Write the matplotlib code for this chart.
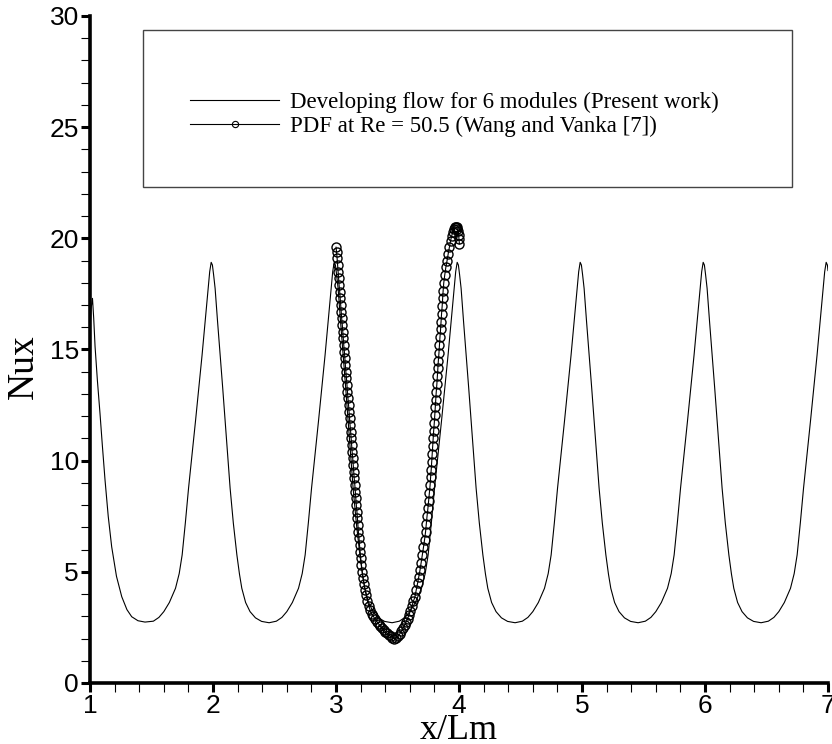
import matplotlib
matplotlib.use("Agg")
import matplotlib.pyplot as plt
from matplotlib.lines import Line2D
from matplotlib.patches import Rectangle
from matplotlib.ticker import MultipleLocator

# Developing flow for 6 modules (solid line), module by module
x_dev = [
    1.000, 1.010, 1.020, 1.030, 1.041, 1.060, 1.081, 1.100, 1.122, 1.148, 1.176, 1.215, 1.258, 1.300, 1.339, 1.390, 1.447,
    1.515, 1.560, 1.600, 1.645, 1.695, 1.725, 1.749, 1.775, 1.801, 1.829, 1.857, 1.884, 1.911, 1.937, 1.961, 1.973,
    1.985, 1.995, 2.005, 2.017, 2.037, 2.058, 2.079, 2.099, 2.119, 2.139, 2.165, 2.194, 2.215, 2.234, 2.265, 2.301, 2.345, 2.395,
    2.456, 2.515, 2.560, 2.600, 2.645, 2.695, 2.725, 2.749, 2.775, 2.801, 2.829, 2.857, 2.884, 2.911, 2.937, 2.961, 2.973,
    2.985, 2.995, 3.005, 3.017, 3.037, 3.058, 3.079, 3.099, 3.119, 3.139, 3.165, 3.194, 3.215, 3.234, 3.265, 3.301, 3.345, 3.395,
    3.456, 3.515, 3.560, 3.600, 3.645, 3.695, 3.725, 3.749, 3.775, 3.801, 3.829, 3.857, 3.884, 3.911, 3.937, 3.961, 3.973,
    3.985, 3.995, 4.005, 4.017, 4.037, 4.058, 4.079, 4.099, 4.119, 4.139, 4.165, 4.194, 4.215, 4.234, 4.265, 4.301, 4.345, 4.395,
    4.456, 4.515, 4.560, 4.600, 4.645, 4.695, 4.725, 4.749, 4.775, 4.801, 4.829, 4.857, 4.884, 4.911, 4.937, 4.961, 4.973,
    4.985, 4.995, 5.005, 5.017, 5.037, 5.058, 5.079, 5.099, 5.119, 5.139, 5.165, 5.194, 5.215, 5.234, 5.265, 5.301, 5.345, 5.395,
    5.456, 5.515, 5.560, 5.600, 5.645, 5.695, 5.725, 5.749, 5.775, 5.801, 5.829, 5.857, 5.884, 5.911, 5.937, 5.961, 5.973,
    5.985, 5.995, 6.005, 6.017, 6.037, 6.058, 6.079, 6.099, 6.119, 6.139, 6.165, 6.194, 6.215, 6.234, 6.265, 6.301, 6.345, 6.395,
    6.456, 6.515, 6.560, 6.600, 6.645, 6.695, 6.725, 6.749, 6.775, 6.801, 6.829, 6.857, 6.884, 6.911, 6.937, 6.961, 6.973,
    6.985, 6.995, 7.000,
]
nu_dev = [
    15.90, 16.90, 17.30, 16.40, 15.13, 13.60, 12.13, 10.70, 9.13, 7.50, 6.13, 4.80, 3.88, 3.30, 2.98, 2.80, 2.74,
    2.78, 2.95, 3.21, 3.62, 4.26, 4.92, 5.76, 7.20, 8.76, 10.25, 11.75, 13.25, 14.75, 16.30, 17.75, 18.50,
    18.92, 18.80, 18.35, 17.75, 16.25, 14.75, 13.25, 11.75, 10.25, 8.76, 7.20, 5.76, 4.90, 4.26, 3.62, 3.21, 2.93, 2.77,
    2.71, 2.78, 2.95, 3.21, 3.62, 4.26, 4.92, 5.76, 7.20, 8.76, 10.25, 11.75, 13.25, 14.75, 16.30, 17.75, 18.50,
    18.92, 18.80, 18.35, 17.75, 16.25, 14.75, 13.25, 11.75, 10.25, 8.76, 7.20, 5.76, 4.90, 4.26, 3.62, 3.21, 2.93, 2.77,
    2.71, 2.78, 2.95, 3.21, 3.62, 4.26, 4.92, 5.76, 7.20, 8.76, 10.25, 11.75, 13.25, 14.75, 16.30, 17.75, 18.50,
    18.92, 18.80, 18.35, 17.75, 16.25, 14.75, 13.25, 11.75, 10.25, 8.76, 7.20, 5.76, 4.90, 4.26, 3.62, 3.21, 2.93, 2.77,
    2.71, 2.78, 2.95, 3.21, 3.62, 4.26, 4.92, 5.76, 7.20, 8.76, 10.25, 11.75, 13.25, 14.75, 16.30, 17.75, 18.50,
    18.92, 18.80, 18.35, 17.75, 16.25, 14.75, 13.25, 11.75, 10.25, 8.76, 7.20, 5.76, 4.90, 4.26, 3.62, 3.21, 2.93, 2.77,
    2.71, 2.78, 2.95, 3.21, 3.62, 4.26, 4.92, 5.76, 7.20, 8.76, 10.25, 11.75, 13.25, 14.75, 16.30, 17.75, 18.50,
    18.92, 18.80, 18.35, 17.75, 16.25, 14.75, 13.25, 11.75, 10.25, 8.76, 7.20, 5.76, 4.90, 4.26, 3.62, 3.21, 2.93, 2.77,
    2.71, 2.78, 2.95, 3.21, 3.62, 4.26, 4.92, 5.76, 7.20, 8.76, 10.25, 11.75, 13.25, 14.75, 16.30, 17.75, 18.50,
    18.92, 18.80, 18.55,
]

# PDF at Re = 50.5 (Wang and Vanka [7]) - circles
x_pdf = [
    3.000, 3.004, 3.009, 3.013, 3.017, 3.021, 3.025, 3.030, 3.034, 3.038, 3.042, 3.046, 3.051, 3.055, 3.059, 3.063,
    3.068, 3.072, 3.076, 3.080, 3.085, 3.089, 3.093, 3.097, 3.102, 3.106, 3.110, 3.114, 3.119, 3.123, 3.127, 3.131,
    3.136, 3.140, 3.144, 3.148, 3.153, 3.157, 3.161, 3.165, 3.170, 3.174, 3.178, 3.182, 3.187, 3.191, 3.196, 3.201,
    3.207, 3.213, 3.220, 3.228, 3.236, 3.245, 3.255, 3.266, 3.278, 3.291, 3.304, 3.318, 3.332, 3.346, 3.360, 3.374,
    3.388, 3.402, 3.416, 3.430, 3.444, 3.458, 3.472, 3.490, 3.505, 3.520, 3.532, 3.545, 3.558, 3.570, 3.582, 3.594,
    3.605, 3.617, 3.629, 3.642, 3.652, 3.663, 3.673, 3.683, 3.692, 3.701, 3.711, 3.720, 3.728, 3.734, 3.740, 3.747,
    3.753, 3.759, 3.765, 3.769, 3.774, 3.778, 3.782, 3.786, 3.790, 3.794, 3.799, 3.803, 3.807, 3.811, 3.815, 3.820,
    3.824, 3.828, 3.832, 3.837, 3.841, 3.845, 3.850, 3.854, 3.858, 3.863, 3.867, 3.871, 3.876, 3.884, 3.893, 3.903,
    3.912, 3.922, 3.931, 3.941, 3.950, 3.958, 3.966, 3.973, 3.980, 3.986, 3.992, 3.997, 4.000, 4.003,
]
nu_pdf = [
    19.60, 19.40, 19.10, 18.80, 18.50, 18.20, 17.90, 17.60, 17.30, 17.00, 16.70, 16.40, 16.10, 15.80, 15.50, 15.20,
    14.90, 14.60, 14.30, 14.00, 13.70, 13.40, 13.10, 12.80, 12.50, 12.20, 11.90, 11.60, 11.30, 11.00, 10.70, 10.40,
    10.10, 9.80, 9.50, 9.20, 8.90, 8.60, 8.30, 8.00, 7.70, 7.40, 7.10, 6.80, 6.50, 6.20, 5.90, 5.60,
    5.30, 5.00, 4.70, 4.45, 4.20, 3.95, 3.70, 3.48, 3.27, 3.10, 3.00, 2.86, 2.76, 2.66, 2.56, 2.47,
    2.38, 2.30, 2.23, 2.16, 2.10, 2.04, 2.00, 2.04, 2.12, 2.22, 2.33, 2.46, 2.60, 2.75, 2.90, 3.07,
    3.26, 3.46, 3.67, 3.88, 4.18, 4.48, 4.78, 5.08, 5.40, 5.75, 6.10, 6.45, 6.80, 7.15, 7.50, 7.85,
    8.20, 8.55, 8.90, 9.25, 9.60, 9.95, 10.30, 10.65, 11.00, 11.35, 11.70, 12.05, 12.40, 12.75, 13.10, 13.45,
    13.80, 14.15, 14.50, 14.85, 15.20, 15.55, 15.90, 16.25, 16.60, 16.95, 17.30, 17.65, 18.00, 18.35, 18.70, 19.00,
    19.30, 19.60, 19.88, 20.12, 20.30, 20.42, 20.49, 20.52, 20.50, 20.44, 20.32, 20.15, 19.95, 19.75,
]

legend_labels = ["Developing flow for 6 modules (Present work)",
                 "PDF at Re = 50.5 (Wang and Vanka [7])"]

fig = plt.figure(figsize=(8.32, 7.44), dpi=100)
ax = fig.add_axes([0.1082, 0.0820, 0.8870, 0.8965])

ax.plot(x_dev, nu_dev, color="black", lw=0.8)
ax.plot(x_pdf, nu_pdf, color="black", lw=0.8, marker="o", ms=6.5,
        mfc="none", mec="black", mew=1.0)

ax.set_xlim(1, 7)
ax.set_ylim(0, 30)

ax.spines["top"].set_visible(False)
ax.spines["right"].set_visible(False)
ax.spines["left"].set_linewidth(2.6)
ax.spines["bottom"].set_linewidth(2.6)

ax.xaxis.set_major_locator(MultipleLocator(1))
ax.xaxis.set_minor_locator(MultipleLocator(0.2))
ax.yaxis.set_major_locator(MultipleLocator(5))
ax.yaxis.set_minor_locator(MultipleLocator(1))
ax.tick_params(which="major", direction="out", length=6.5, width=2.2,
               labelsize=19, pad=1.5)
ax.tick_params(which="minor", direction="out", length=6.5, width=0.8)
for lab in ax.get_xticklabels() + ax.get_yticklabels():
    lab.set_fontfamily("Liberation Sans")

ax.set_xlabel("x/Lm", fontsize=26, family="Liberation Serif")
ax.set_ylabel("Nux", fontsize=27, family="Liberation Serif")
ax.xaxis.set_label_coords(0.5, -0.046)
ax.yaxis.set_label_coords(-0.066, 0.474)

# legend box
box = Rectangle((143 / 832, 1 - 187 / 744), (792 - 143) / 832, (187 - 30) / 744,
                transform=fig.transFigure, fill=False, ec="#444444", lw=1.0)
fig.patches.append(box)

handles = [Line2D([], [], color="black", lw=0.8),
           Line2D([], [], color="black", lw=0.8, marker="o", ms=4.5,
                  mfc="none", mec="black", mew=0.8)]
leg = fig.legend(handles, legend_labels, loc="upper left",
                 bbox_to_anchor=(190 / 832, 1 - 92 / 744), frameon=False,
                 numpoints=1, handlelength=3.9, handletextpad=0.45,
                 labelspacing=0.12, borderaxespad=0, borderpad=0,
                 prop={"family": "Liberation Serif", "size": 16.5})

fig.savefig("out.png", dpi=100)
